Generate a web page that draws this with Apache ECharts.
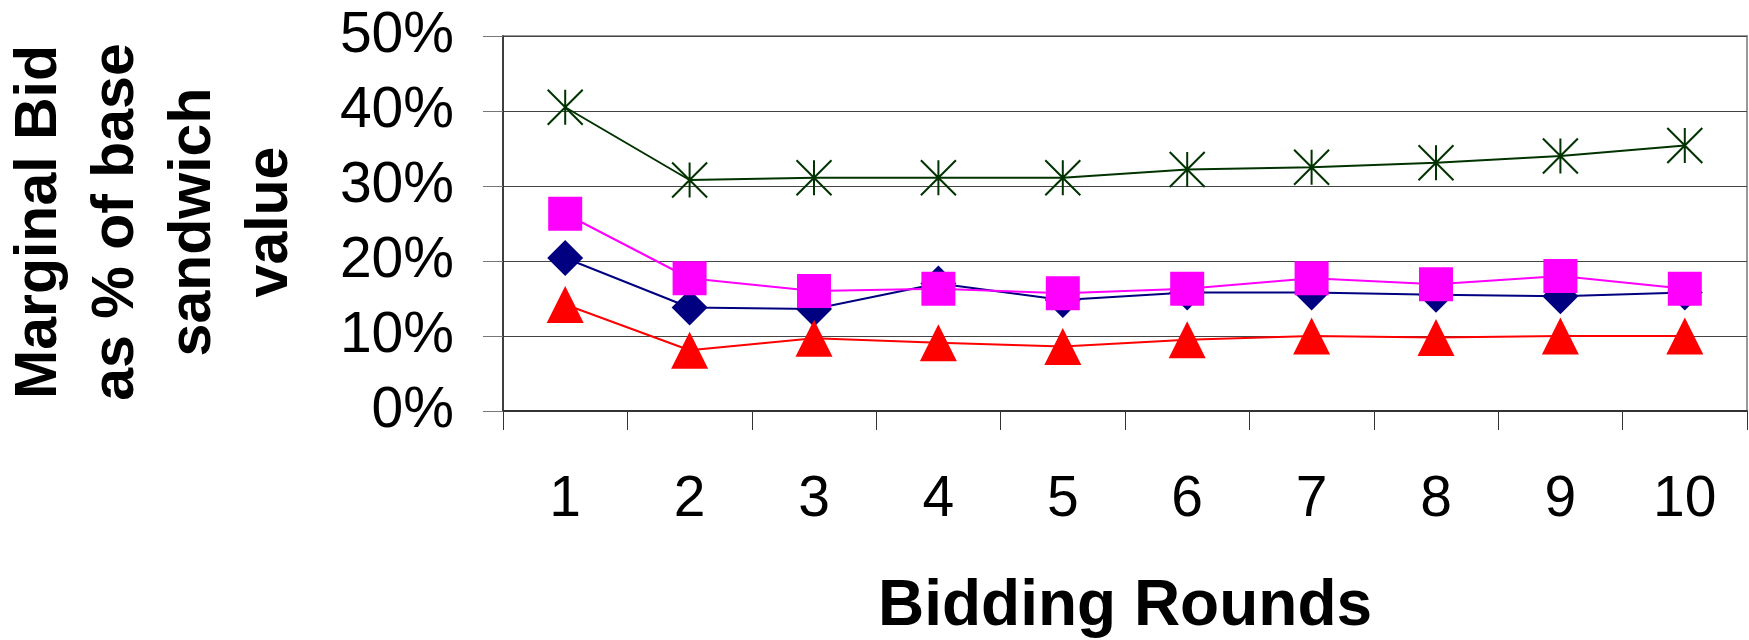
<!DOCTYPE html>
<html>
<head>
<meta charset="utf-8">
<script src="https://cdn.jsdelivr.net/npm/echarts@6/dist/echarts.min.js"></script>
<style>
html,body{margin:0;padding:0;background:#fff;}
#chart{width:1749px;height:640px;}
</style>
</head>
<body>
<div id="chart"></div>
<script>
var categories = ['1','2','3','4','5','6','7','8','9','10'];
var starSeries = [40.5, 30.8, 31.1, 31.1, 31.1, 32.2, 32.5, 33.1, 34.0, 35.4];
var diamondSeries = [20.4, 13.8, 13.6, 17.0, 14.8, 15.8, 15.8, 15.5, 15.3, 15.8];
var squareSeries = [26.3, 17.7, 16.0, 16.3, 15.7, 16.3, 17.7, 16.9, 18.0, 16.3];
var triangleSeries = [14.2, 8.1, 9.7, 9.1, 8.6, 9.5, 10.0, 9.8, 10.0, 10.0];
var yTicks = {min: 0, max: 50, interval: 10};
var yTitleLines = ['Marginal Bid', 'as % of base', 'sandwich', 'value'];
var xTitle = 'Bidding Rounds';

var FONT = '"Liberation Sans", Arial, Helvetica, sans-serif';
var chart = echarts.init(document.getElementById('chart'), null, {renderer: 'canvas'});

var starPath = 'path://M0,0L10,10M10,0L0,10M5,0L5,10';

chart.setOption({
  animation: false,
  backgroundColor: '#ffffff',
  grid: {
    left: 503, right: 2, top: 36, bottom: 229,
    containLabel: false,
    outerBoundsMode: 'none',
    show: true, borderColor: '#999999', borderWidth: 2, backgroundColor: 'transparent'
  },
  xAxis: {
    type: 'category',
    data: categories,
    boundaryGap: true,
    name: xTitle,
    nameLocation: 'middle',
    nameGap: 164,
    nameTextStyle: {fontFamily: FONT, fontSize: 64, fontWeight: 'bold', color: '#000'},
    axisLine: {show: true, lineStyle: {color: '#333', width: 2}},
    axisTick: {show: true, length: 19, alignWithLabel: false, lineStyle: {color: '#333', width: 1}},
    axisLabel: {fontFamily: FONT, fontSize: 57, color: '#000', margin: 61, interval: 0},
    splitLine: {show: false}
  },
  yAxis: {
    type: 'value',
    min: yTicks.min, max: yTicks.max, interval: yTicks.interval,
    axisLine: {show: true, lineStyle: {color: '#222', width: 1.5}},
    axisTick: {show: true, length: 20, lineStyle: {color: '#777', width: 1}},
    axisLabel: {fontFamily: FONT, fontSize: 57, color: '#000', margin: 49,
      formatter: function (v) { return v + '%'; }},
    splitLine: {show: true, lineStyle: {color: '#444', width: 1}}
  },
  graphic: [{
    type: 'text',
    x: 155, y: 222,
    rotation: Math.PI / 2,
    style: {
      text: yTitleLines.join('\n'),
      x: 0, y: 0,
      textAlign: 'center', textVerticalAlign: 'middle',
      font: 'bold 59px ' + FONT,
      lineHeight: 77,
      fill: '#000'
    }
  }],
  series: [
    {
      type: 'line', name: 'star', data: starSeries,
      symbol: starPath, symbolSize: 35,
      lineStyle: {color: '#003300', width: 2},
      itemStyle: {color: '#003300', borderColor: '#003300', borderWidth: 2},
      z: 2
    },
    {
      type: 'line', name: 'diamond', data: diamondSeries,
      symbol: 'diamond', symbolSize: 36,
      lineStyle: {color: '#000080', width: 2},
      itemStyle: {color: '#000080'},
      z: 3
    },
    {
      type: 'line', name: 'square', data: squareSeries,
      symbol: 'rect', symbolSize: 34,
      lineStyle: {color: '#ff00ff', width: 2},
      itemStyle: {color: '#ff00ff'},
      z: 4
    },
    {
      type: 'line', name: 'triangle', data: triangleSeries,
      symbol: 'triangle', symbolSize: 37,
      lineStyle: {color: '#ff0000', width: 2},
      itemStyle: {color: '#ff0000'},
      z: 5
    }
  ]
});
</script>
</body>
</html>
